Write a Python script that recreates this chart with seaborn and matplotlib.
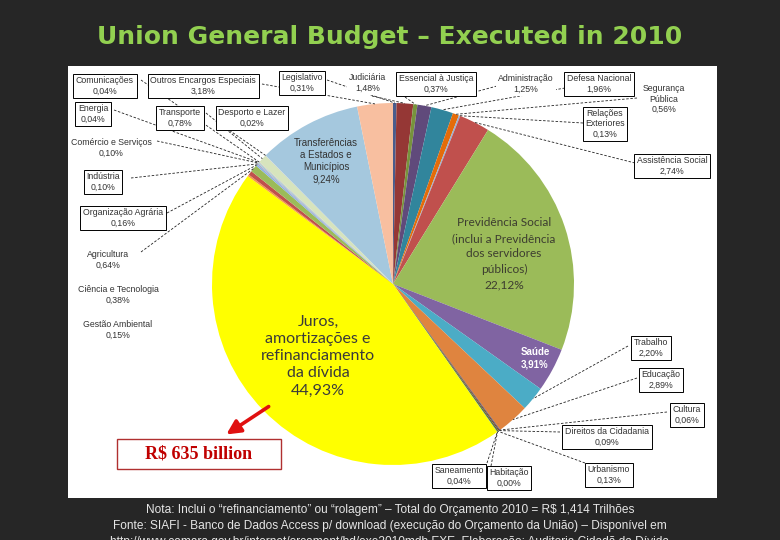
import matplotlib
matplotlib.use("Agg")
import numpy as np
import matplotlib.pyplot as plt
from matplotlib.patches import Rectangle
import seaborn as sns

# ---------------- data (clockwise from 12 o'clock) ----------------
categories = ["Legislativo", "Judiciária", "Essencial à Justiça", "Administração",
              "Defesa Nacional", "Segurança Pública", "Relações Exteriores",
              "Assistência Social", "Previdência Social", "Saúde", "Trabalho",
              "Educação", "Cultura", "Direitos da Cidadania", "Urbanismo",
              "Habitação", "Saneamento", "Juros", "Gestão Ambiental",
              "Ciência e Tecnologia", "Agricultura", "Organização Agrária",
              "Indústria", "Comércio e Serviços", "Energia", "Comunicações",
              "Transporte", "Desporto e Lazer", "Transferências",
              "Outros Encargos Especiais"]
shares = [0.31, 1.48, 0.37, 1.25, 1.96, 0.56, 0.13, 2.74, 22.12, 3.91, 2.20,
          2.89, 0.06, 0.09, 0.13, 0.00, 0.04, 44.93, 0.15, 0.38, 0.64, 0.16,
          0.10, 0.10, 0.04, 0.04, 0.78, 0.02, 9.24, 3.18]
colors = ["#4A5C8C", "#953735", "#77933C", "#604A7B", "#31859C", "#E46C0A",
          "#95B3D7", "#C0504D", "#9BBB59", "#8064A2", "#4BACC6", "#DF843F",
          "#2C4D75", "#772C2A", "#5F7530", "#4D3B62", "#276A7C", "#FFFF00",
          "#F79646", "#C0504D", "#9BBB59", "#8EB4E3", "#B3A2C7", "#93CDDD",
          "#FAC090", "#95B3D7", "#D7E4BD", "#CCC1DA", "#A5C8DE", "#F8BFA0"]

title = "Union General Budget – Executed in 2010"
footer = ["Nota: Inclui o “refinanciamento” ou “rolagem” – Total do Orçamento 2010 = R$ 1,414 Trilhões",
          "Fonte: SIAFI - Banco de Dados Access p/ download (execução do Orçamento da União) – Disponível em",
          "http://www.camara.gov.br/internet/orcament/bd/exe2010mdb.EXE. Elaboração: Auditoria Cidadã da Dívida"]
callout = "R$ 635 billion"

display = {"Segurança Pública": "Segurança\nPública",
           "Relações Exteriores": "Relações\nExteriores",
           "Assistência Social": "Assistência Social"}

# layout of outer label boxes: name -> (x, y, line-anchor x, y, boxed) in pixels
layout = {
    "Comunicações": (105, 86, 141, 80, True),
    "Outros Encargos Especiais": (203, 86, 262, 84, True),
    "Legislativo": (302, 83, 327, 80, True),
    "Judiciária": (368, 83, 372, 96, False),
    "Essencial à Justiça": (436, 84, 405, 97, True),
    "Administração": (526, 84, 497, 86, False),
    "Defesa Nacional": (599, 84, 565, 88, True),
    "Segurança Pública": (664, 99, 637, 98, False),
    "Relações Exteriores": (605, 124, 583, 123, True),
    "Assistência Social": (672, 166, 635, 163, True),
    "Energia": (93, 114, 114, 110, True),
    "Transporte": (180, 118, 206, 113, True),
    "Desporto e Lazer": (252, 118, 226, 128, True),
    "Comércio e Serviços": (111, 148, 157, 141, False),
    "Indústria": (103, 182, 131, 178, True),
    "Organização Agrária": (123, 218, 167, 213, True),
    "Agricultura": (108, 260, 141, 252, False),
    "Ciência e Tecnologia": (118, 295, None, None, False),
    "Gestão Ambiental": (118, 330, None, None, False),
    "Trabalho": (651, 348, 628, 346, True),
    "Educação": (661, 380, 637, 378, True),
    "Cultura": (687, 415, 667, 412, True),
    "Direitos da Cidadania": (607, 437, 560, 432, True),
    "Urbanismo": (609, 475, 585, 463, True),
    "Habitação": (509, 478, 491, 466, True),
    "Saneamento": (459, 476, 487, 463, True),
}

W, H = 780, 540
CX, CY, R = 393, 284, 181


def Y(py):
    return H - py


sns.set_theme(style="white")
plt.rcParams["font.family"] = ["Liberation Sans", "DejaVu Sans"]

fig = plt.figure(figsize=(7.8, 5.4), dpi=100, facecolor="#262626")
ax = fig.add_axes([0, 0, 1, 1])
ax.set_facecolor("#262626")

ax.add_patch(Rectangle((68, Y(498)), 649, 432, facecolor="white",
                       edgecolor="none", zorder=0))

wedges, _ = ax.pie(shares, colors=colors, startangle=90, counterclock=False,
                   center=(CX, Y(CY)), radius=R,
                   wedgeprops=dict(linewidth=0, zorder=2))
ax.set_xlim(0, W)
ax.set_ylim(0, H)
ax.set_aspect("equal")
ax.axis("off")

# outer labels + leader lines
cum = np.cumsum([0] + shares[:-1])
for name, v, c0 in zip(categories, shares, cum):
    if name not in layout:
        continue
    x, y, axp, ayp, boxed = layout[name]
    pct = f"{v:.2f}".replace(".", ",") + "%"
    txt = display.get(name, name) + "\n" + pct
    bb = dict(boxstyle="square,pad=0.3", fc="white",
              ec="black" if boxed else "none", lw=0.7)
    ax.text(x, Y(y), txt, ha="center", va="center", fontsize=6.3,
            color="#333333", bbox=bb, zorder=5, linespacing=1.15)
    if axp is not None:
        th = np.deg2rad(90 - 360 * (c0 + v / 2) / 100)
        ex, ey = CX + R * np.cos(th), Y(CY) + R * np.sin(th)
        ax.plot([axp, ex], [Y(ayp), ey], color="#222222", lw=0.6,
                ls=(0, (3, 2)), zorder=4)

# inner labels
ax.text(326, Y(161), "Transferências\na Estados e\nMunicípios\n9,24%",
        ha="center", va="center", fontsize=7, color="#333333",
        linespacing=1.25, zorder=6)
ax.text(504, Y(254), "Previdência Social\n(inclui a Previdência\ndos servidores\npúblicos)\n22,12%",
        ha="center", va="center", fontsize=8.6, color="#3d3d30",
        family=["Lato", "DejaVu Sans"], linespacing=1.5, zorder=6)
ax.text(318, Y(356), "Juros,\namortizações e\nrefinanciamento\nda dívida\n44,93%",
        ha="center", va="center", fontsize=11.5, color="#3a3a3a",
        family=["Lato", "DejaVu Sans"], linespacing=1.3, zorder=6)
ax.text(535, Y(358), "Saúde\n3,91%", ha="center", va="center", fontsize=7,
        color="white", weight="bold", linespacing=1.3, zorder=6)

# callout
ax.add_patch(Rectangle((117, Y(469)), 164, 30, facecolor="white",
                       edgecolor="#B03030", lw=1.0, zorder=7))
ax.text(199, Y(454), callout, ha="center", va="center", fontsize=13,
        weight="bold", color="#C00000",
        family=["Liberation Serif", "DejaVu Serif"], zorder=8)
ax.annotate("", xy=(224, Y(436)), xytext=(271, Y(405)),
            arrowprops=dict(arrowstyle="-|>,head_width=0.35,head_length=0.7",
                            color="#E01010", lw=2.6), zorder=7)

# title and footer
fig.text(0.5, 1 - 37 / H, title, ha="center", va="center", fontsize=18,
         weight="bold", color="#92D050", family=["DejaVu Sans"])
for i, line in enumerate(footer):
    fig.text(0.5, 1 - (510 + 16 * i) / H, line, ha="center", va="center",
             fontsize=8.6, color="#E6E6E6")

fig.savefig("out.png", dpi=100, facecolor=fig.get_facecolor())
